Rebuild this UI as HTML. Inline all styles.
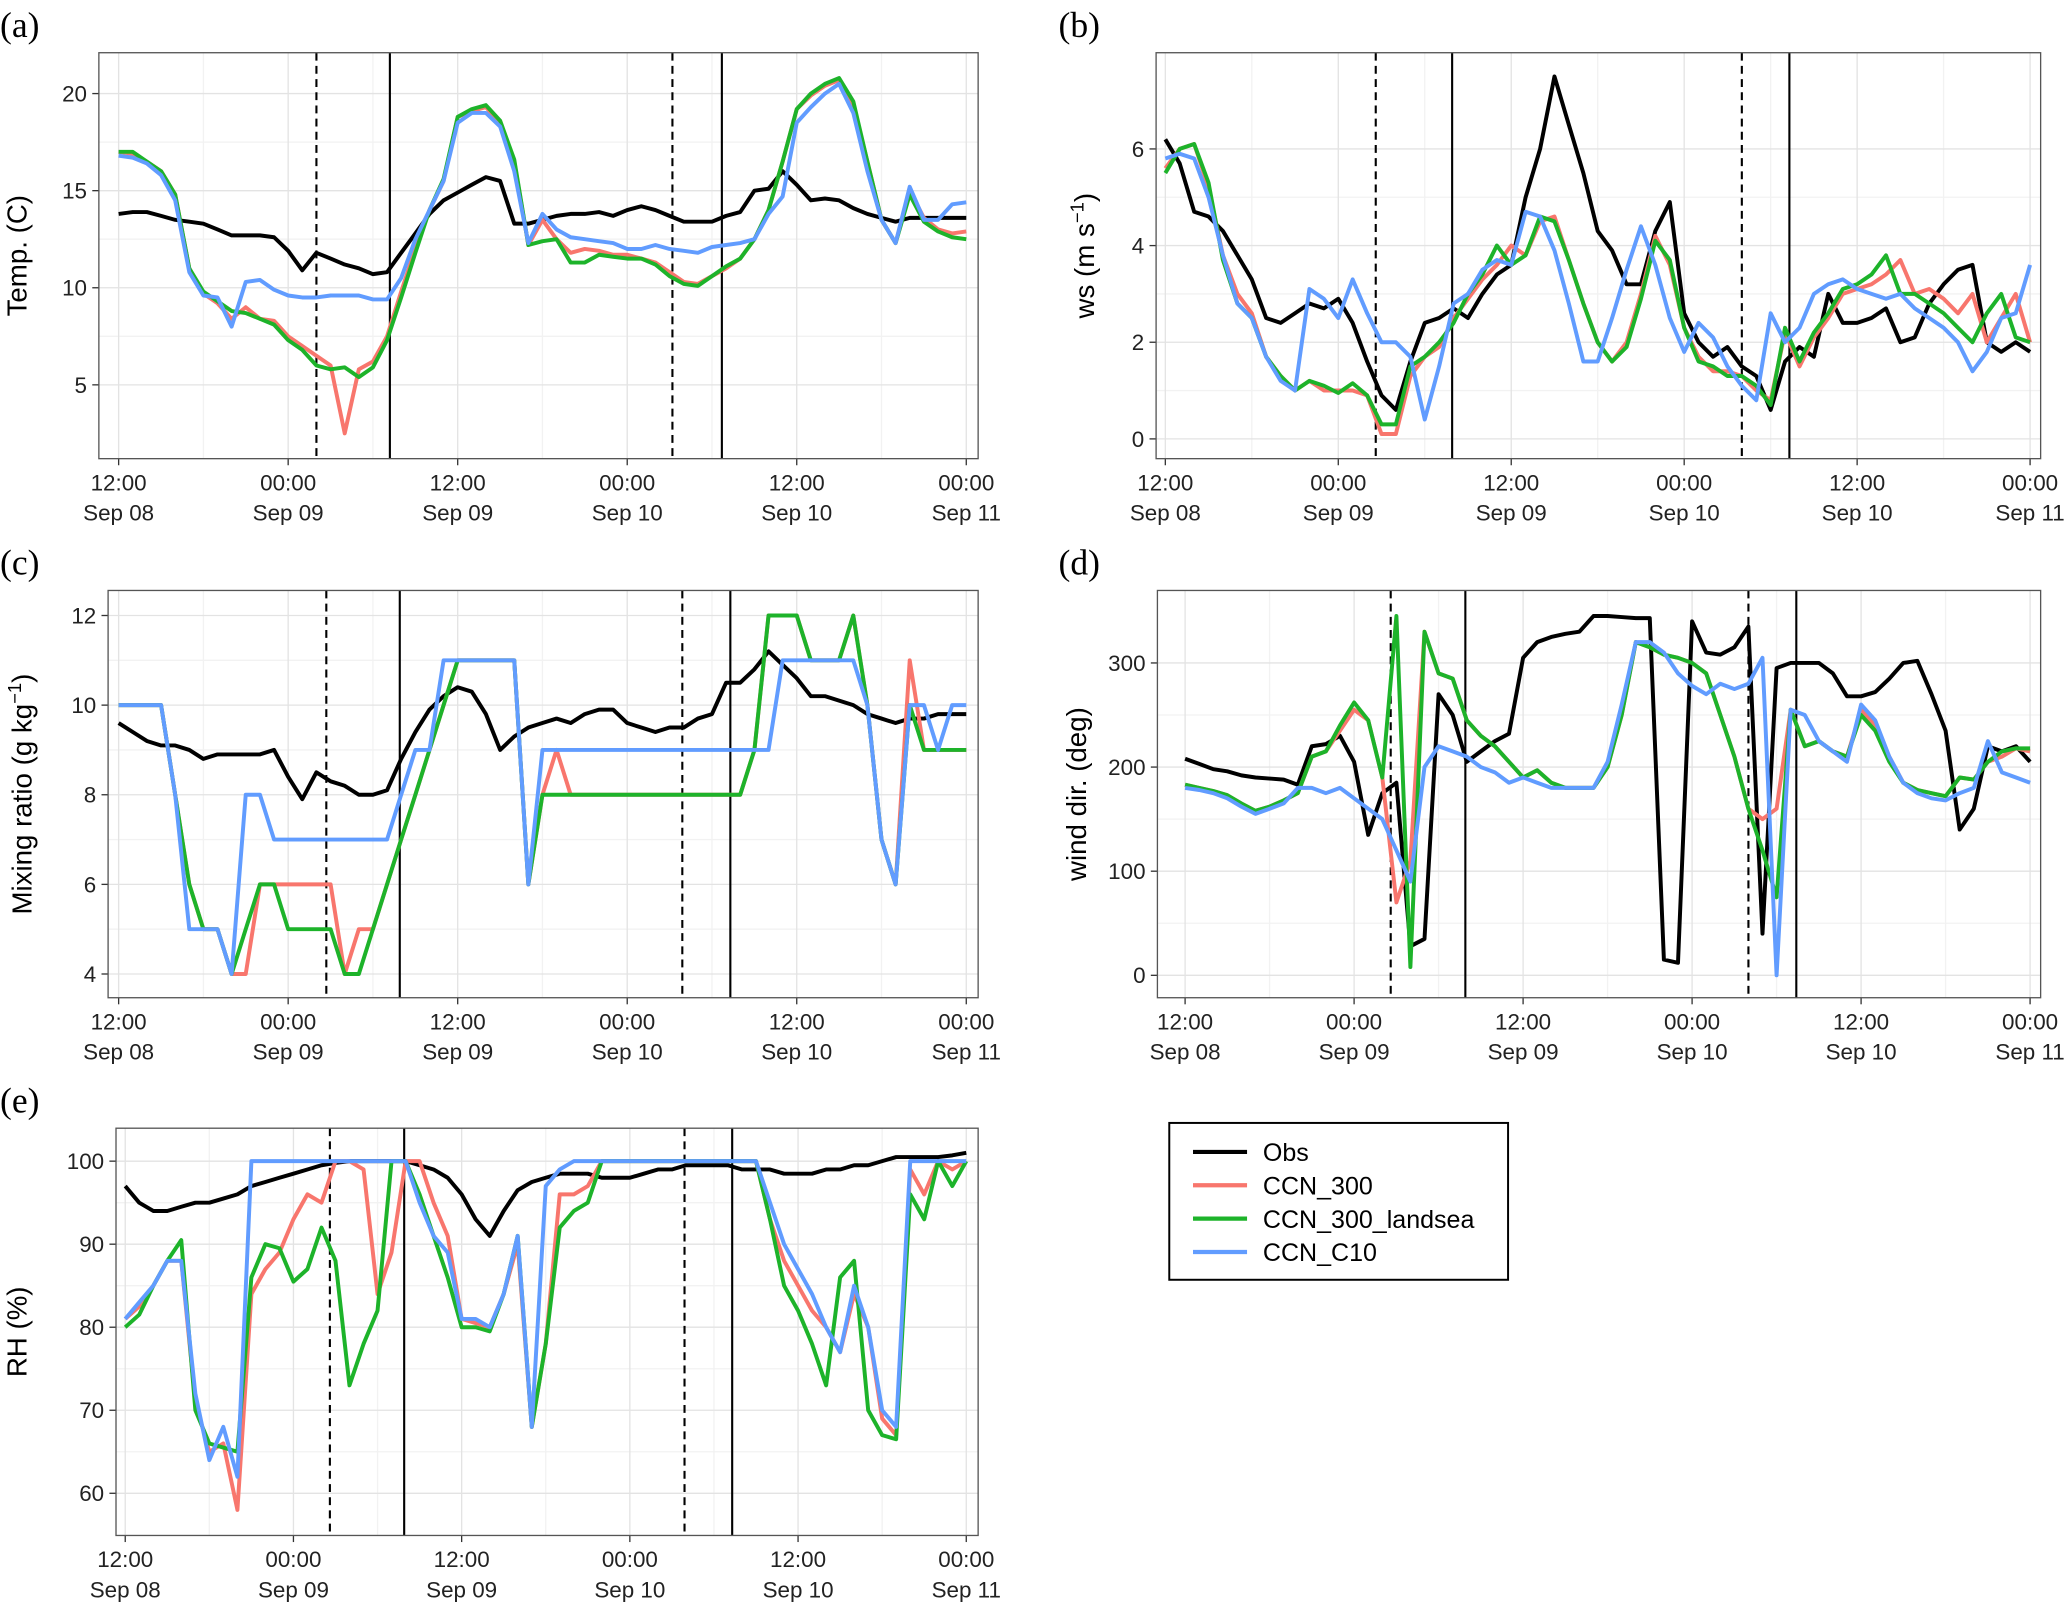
<!DOCTYPE html>
<html><head><meta charset="utf-8"><style>
html,body{margin:0;padding:0;background:#fff;}
svg{display:block;font-family:"Liberation Sans",sans-serif;}
</style></head><body>
<svg id="fig" width="2067" height="1604" viewBox="0 0 1568 1217" preserveAspectRatio="none" xmlns="http://www.w3.org/2000/svg"></svg>
<script>
// ---- shared axis data ----
const xTickHours = [0,12,24,36,48,60];
const xTickTop = ["12:00","00:00","12:00","00:00","12:00","00:00"];
const xTickBottom = ["Sep 08","Sep 09","Sep 09","Sep 10","Sep 10","Sep 11"];
const seriesNames = ["Obs","CCN_300","CCN_300_landsea","CCN_C10"];

// ---- (a) temperature ----
const tempObs = [13.8,13.9,13.9,13.7,13.5,13.4,13.3,13.0,12.7,12.7,12.7,12.6,11.9,10.9,11.8,11.5,11.2,11.0,10.7,10.8,11.8,12.8,13.8,14.5,14.9,15.3,15.7,15.5,13.3,13.3,13.5,13.7,13.8,13.8,13.9,13.7,14.0,14.2,14.0,13.7,13.4,13.4,13.4,13.7,13.9,15.0,15.1,16.0,15.3,14.5,14.6,14.5,14.1,13.8,13.6,13.4,13.6,13.6,13.6,13.6,13.6];
const tempC300 = [17.0,16.9,16.5,16.0,14.8,11.0,9.7,9.2,8.4,9.0,8.4,8.3,7.5,7.0,6.5,6.0,2.5,5.8,6.2,7.5,9.8,12.0,14.0,15.5,18.8,19.1,19.3,18.5,16.5,12.2,13.5,12.5,11.8,12.0,11.9,11.7,11.7,11.5,11.3,10.8,10.3,10.2,10.6,11.0,11.5,12.5,14.0,16.5,19.2,19.9,20.4,20.7,19.4,16.5,13.5,12.3,15.0,13.6,13.0,12.8,12.9];
const tempLand = [17.0,17.0,16.5,16.0,14.8,11.0,9.8,9.3,8.8,8.7,8.4,8.1,7.3,6.8,6.0,5.8,5.9,5.4,5.9,7.3,9.5,11.8,14.0,15.6,18.8,19.2,19.4,18.6,16.6,12.2,12.4,12.5,11.3,11.3,11.7,11.6,11.5,11.5,11.2,10.6,10.2,10.1,10.6,11.1,11.5,12.5,14.0,16.5,19.2,20.0,20.5,20.8,19.6,16.5,13.5,12.3,14.8,13.4,12.9,12.6,12.5];
const tempC10 = [16.8,16.7,16.4,15.8,14.5,10.8,9.6,9.5,8.0,10.3,10.4,9.9,9.6,9.5,9.5,9.6,9.6,9.6,9.4,9.4,10.5,12.5,14.0,15.5,18.5,19.0,19.0,18.3,16.0,12.3,13.8,13.0,12.6,12.5,12.4,12.3,12.0,12.0,12.2,12.0,11.9,11.8,12.1,12.2,12.3,12.5,13.8,14.7,18.5,19.3,20.0,20.5,19.0,16.0,13.5,12.3,15.2,13.5,13.5,14.3,14.4];
const tempTicks = [5,10,15,20];

// ---- (b) wind speed ----
const wsObs = [6.2,5.7,4.7,4.6,4.3,3.8,3.3,2.5,2.4,2.6,2.8,2.7,2.9,2.4,1.6,0.9,0.6,1.6,2.4,2.5,2.7,2.5,3.0,3.4,3.6,5.0,6.0,7.5,6.5,5.5,4.3,3.9,3.2,3.2,4.3,4.9,2.6,2.0,1.7,1.9,1.5,1.3,0.6,1.6,1.9,1.7,3.0,2.4,2.4,2.5,2.7,2.0,2.1,2.8,3.2,3.5,3.6,2.0,1.8,2.0,1.8];
const wsC300 = [5.6,6.0,6.1,5.2,3.8,3.0,2.6,1.7,1.3,1.0,1.2,1.0,1.0,1.0,0.9,0.1,0.1,1.3,1.7,1.9,2.5,2.9,3.3,3.6,4.0,3.8,4.5,4.6,3.7,2.8,2.0,1.6,2.0,3.0,4.2,3.6,2.3,1.7,1.4,1.4,1.3,1.0,0.8,2.2,1.5,2.1,2.5,3.0,3.1,3.2,3.4,3.7,3.0,3.1,2.9,2.6,3.0,2.0,2.5,3.0,2.0];
const wsLand = [5.5,6.0,6.1,5.3,3.7,2.8,2.5,1.7,1.3,1.0,1.2,1.1,0.95,1.15,0.9,0.3,0.3,1.5,1.7,2.0,2.4,3.0,3.4,4.0,3.6,3.8,4.6,4.5,3.7,2.8,2.0,1.6,1.9,2.9,4.1,3.7,2.3,1.6,1.5,1.3,1.3,1.1,0.7,2.3,1.6,2.2,2.6,3.1,3.2,3.4,3.8,3.0,3.0,2.8,2.6,2.3,2.0,2.6,3.0,2.1,2.0];
const wsC10 = [5.8,5.9,5.8,5.0,3.8,2.8,2.5,1.7,1.2,1.0,3.1,2.9,2.5,3.3,2.6,2.0,2.0,1.7,0.4,1.5,2.8,3.0,3.5,3.7,3.6,4.7,4.6,3.9,2.8,1.6,1.6,2.5,3.5,4.4,3.6,2.5,1.8,2.4,2.1,1.5,1.1,0.8,2.6,2.0,2.3,3.0,3.2,3.3,3.1,3.0,2.9,3.0,2.7,2.5,2.3,2.0,1.4,1.8,2.5,2.6,3.6];
const wsTicks = [0,2,4,6];

// ---- (c) mixing ratio ----
const mrObs = [9.6,9.4,9.2,9.1,9.1,9.0,8.8,8.9,8.9,8.9,8.9,9.0,8.4,7.9,8.5,8.3,8.2,8.0,8.0,8.1,8.8,9.4,9.9,10.2,10.4,10.3,9.8,9.0,9.3,9.5,9.6,9.7,9.6,9.8,9.9,9.9,9.6,9.5,9.4,9.5,9.5,9.7,9.8,10.5,10.5,10.8,11.2,10.9,10.6,10.2,10.2,10.1,10.0,9.8,9.7,9.6,9.7,9.7,9.8,9.8,9.8];
const mrC300 = [10,10,10,10,8,6,5,5,4,4,6,6,6,6,6,6,4,5,5,6,7,8,9,10,11,11,11,11,11,6,8,9,8,8,8,8,8,8,8,8,8,8,8,8,8,9,12,12,12,11,11,11,12,10,7,6,11,9,9,9,9];
const mrLand = [10,10,10,10,8,6,5,5,4,5,6,6,5,5,5,5,4,4,5,6,7,8,9,10,11,11,11,11,11,6,8,8,8,8,8,8,8,8,8,8,8,8,8,8,8,9,12,12,12,11,11,11,12,10,7,6,10,9,9,9,9];
const mrC10 = [10,10,10,10,8,5,5,5,4,8,8,7,7,7,7,7,7,7,7,7,8,9,9,11,11,11,11,11,11,6,9,9,9,9,9,9,9,9,9,9,9,9,9,9,9,9,9,11,11,11,11,11,11,10,7,6,10,10,9,10,10];
const mrTicks = [4,6,8,10,12];

// ---- (d) wind direction ----
const wdObs = [208,203,198,196,192,190,189,188,183,220,222,230,205,135,175,185,28,35,270,250,205,215,225,232,305,320,325,328,330,345,345,344,343,343,15,12,340,310,308,315,335,40,295,300,300,300,290,268,268,272,285,300,302,270,235,140,160,220,215,220,205];
const wdC300 = [183,180,177,173,165,158,162,168,175,210,215,235,255,245,190,70,110,330,290,285,245,230,220,205,190,197,185,180,180,180,200,250,320,315,308,305,300,290,250,210,160,150,160,255,220,225,215,210,255,240,210,185,178,175,172,190,188,205,210,218,215];
const wdLand = [183,180,177,173,165,158,162,168,175,210,215,240,262,245,190,345,8,330,290,285,245,230,220,205,190,197,185,180,180,180,200,250,320,315,308,305,300,290,250,210,160,120,75,255,220,225,215,210,250,235,205,185,178,175,172,190,188,205,215,218,218];
const wdC10 = [180,178,175,170,162,155,160,165,180,180,175,180,170,160,150,120,90,200,220,215,210,200,195,185,190,185,180,180,180,180,205,260,320,320,310,290,278,270,280,275,280,305,0,255,250,225,215,205,260,245,210,185,175,170,168,175,180,225,195,190,185];
const wdTicks = [0,100,200,300];

// ---- (e) relative humidity ----
const rhObs = [97,95,94,94,94.5,95,95,95.5,96,97,97.5,98,98.5,99,99.5,99.8,100,100,100,100,100,99.5,99,98,96,93,91,94,96.5,97.5,98,98.5,98.5,98.5,98,98,98,98.5,99,99,99.5,99.5,99.5,99.5,99,99,99,98.5,98.5,98.5,99,99,99.5,99.5,100,100.5,100.5,100.5,100.5,100.7,101];
const rhC300 = [81,82.5,85,88,88,71,65,66,58,84,87,89,93,96,95,100,100,99,84,89,100,100,95,91,81,80.5,80,84,90,68,78,96,96,97,100,100,100,100,100,100,100,100,100,100,100,100,93,88,85,82,80,77,84,80,69,67,99,96,100,99,100];
const rhLand = [80,81.5,85,88,90.5,70,66,65.5,65,86,90,89.5,85.5,87,92,88,73,78,82,100,100,96,91,86,80,80,79.5,84,91,68,78,92,94,95,100,100,100,100,100,100,100,100,100,100,100,100,93,85,82,78,73,86,88,70,67,66.5,96,93,100,97,100];
const rhC10 = [81,83,85,88,88,72,64,68,62,100,100,100,100,100,100,100,100,100,100,100,100,95,91,89,81,81,80,84,91,68,97,99,100,100,100,100,100,100,100,100,100,100,100,100,100,100,95,90,87,84,80,77,85,80,70,68,100,100,100,100,100];
const rhTicks = [60,70,80,90,100];

const colors = ["#000000","#F8766D","#1DB32A","#619CFF"];
const NS = "http://www.w3.org/2000/svg";
const svg = document.getElementById("fig");

function mk(tag, attrs, parent){
  const e = document.createElementNS(NS, tag);
  for (const k in attrs) e.setAttribute(k, attrs[k]);
  (parent||svg).appendChild(e);
  return e;
}

function panel(cfg){
  const g = mk("g", {});
  
  
  const xs = h => cfg.x0 + h * (cfg.x60 - cfg.x0) / 60;
  const ys = v => cfg.yA + (v - cfg.vA) * (cfg.yB - cfg.yA) / (cfg.vB - cfg.vA);
  const bg = mk("rect", {x:cfg.L, y:cfg.T, width:cfg.R-cfg.L, height:cfg.B-cfg.T, fill:"#fff"}, g);
  
  
  for (let h=6; h<60; h+=12) mk("line",{x1:xs(h),x2:xs(h),y1:cfg.T,y2:cfg.B,stroke:"#f2f2f2","stroke-width":1},g);
  for (let i=0;i<cfg.ticks.length-1;i++){const v=(cfg.ticks[i]+cfg.ticks[i+1])/2; mk("line",{x1:cfg.L,x2:cfg.R,y1:ys(v),y2:ys(v),stroke:"#f2f2f2","stroke-width":1},g);}
  xTickHours.forEach((h,i)=>{
    mk("line",{x1:xs(h),x2:xs(h),y1:cfg.T,y2:cfg.B,stroke:"#e3e3e3","stroke-width":1},g);
    mk("line",{x1:xs(h),x2:xs(h),y1:cfg.B,y2:cfg.B+5,stroke:"#333","stroke-width":1},g);
    const t1 = mk("text",{x:xs(h),y:cfg.B+24,"font-size":17,"text-anchor":"middle",fill:"#222"},g);
    t1.textContent = xTickTop[i];
    
    
    const t2 = mk("text",{x:xs(h),y:cfg.B+47,"font-size":17,"text-anchor":"middle",fill:"#222"},g);
    t2.textContent = xTickBottom[i];
    
    
  });
  cfg.ticks.forEach(v=>{
    mk("line",{x1:cfg.L,x2:cfg.R,y1:ys(v),y2:ys(v),stroke:"#e3e3e3","stroke-width":1},g);
    mk("line",{x1:cfg.L-5,x2:cfg.L,y1:ys(v),y2:ys(v),stroke:"#333","stroke-width":1},g);
    const t = mk("text",{x:cfg.L-9,y:ys(v)+6,"font-size":17,"text-anchor":"end",fill:"#222"},g);
    t.textContent = v;
    
    
  });
  cfg.vlines.forEach((h,i)=>{
    const l = mk("line",{x1:xs(h),x2:xs(h),y1:cfg.T,y2:cfg.B,stroke:"#000","stroke-width":1.6,"stroke-dasharray":i%2===0?"6,4":"none"},g);
    
    
  });
  [0,1,2,3].forEach(si=>{
    const vals = cfg.series[si];
    const pts = vals.map((v,h)=>xs(h).toFixed(1)+","+ys(v).toFixed(1)).join(" ");
    const p = mk("polyline",{points:pts,fill:"none",stroke:colors[si],"stroke-width":3,"stroke-linejoin":"round"},g);
    
    
  });
  mk("rect",{x:cfg.L,y:cfg.T,width:cfg.R-cfg.L,height:cfg.B-cfg.T,fill:"none",stroke:"#555","stroke-width":1},g);
  const lab = mk("text",{x:cfg.labX,y:cfg.labY,"font-size":27,"font-family":"Liberation Serif, serif",fill:"#000"},g);
  lab.textContent = cfg.label;
  
  
  const cy = (cfg.T+cfg.B)/2;
  const yt = mk("text",{x:0,y:0,"font-size":21,"text-anchor":"middle",fill:"#000",transform:`translate(${cfg.ytX},${cy}) rotate(-90)`},g);
  yt.innerHTML = cfg.ytitle;
  
  
}

panel({name:"panel-a-temperature",label:"(a)",labX:0,labY:28,L:75,R:742,T:40,B:348,x0:90,x60:733,vA:20,yA:71,vB:5,yB:292,
  ticks:tempTicks,vlines:[14.0,19.2,39.2,42.7],series:[tempObs,tempC300,tempLand,tempC10],ytX:20,ytitle:"Temp. (C)"});
panel({name:"panel-b-wind-speed",label:"(b)",labX:803,labY:28,L:877,R:1548,T:40,B:348,x0:884,x60:1540,vA:6,yA:113,vB:0,yB:333,
  ticks:wsTicks,vlines:[14.6,19.9,40.0,43.3],series:[wsObs,wsC300,wsLand,wsC10],ytX:830,ytitle:'ws (m s<tspan dy="-8" font-size="14">−1</tspan><tspan dy="8">)</tspan>'});
panel({name:"panel-c-mixing-ratio",label:"(c)",labX:0,labY:436,L:82,R:742,T:448,B:757,x0:90,x60:733,vA:12,yA:467,vB:4,yB:739,
  ticks:mrTicks,vlines:[14.7,19.9,39.9,43.3],series:[mrObs,mrC300,mrLand,mrC10],ytX:24,ytitle:'Mixing ratio (g kg<tspan dy="-8" font-size="14">−1</tspan><tspan dy="8">)</tspan>'});
panel({name:"panel-d-wind-direction",label:"(d)",labX:803,labY:436,L:878,R:1548,T:448,B:757,x0:899,x60:1540,vA:300,yA:503,vB:0,yB:740,
  ticks:wdTicks,vlines:[14.6,19.9,40.0,43.4],series:[wdObs,wdC300,wdLand,wdC10],ytX:824,ytitle:"wind dir. (deg)"});
panel({name:"panel-e-relative-humidity",label:"(e)",labX:0,labY:844,L:88,R:742,T:856,B:1165,x0:95,x60:733,vA:100,yA:881,vB:60,yB:1133,
  ticks:rhTicks,vlines:[14.6,19.9,39.9,43.3],series:[rhObs,rhC300,rhLand,rhC10],ytX:20,ytitle:"RH (%)"});

const lg = mk("g",{});


mk("rect",{x:887,y:852,width:257,height:119,fill:"#fff",stroke:"#000","stroke-width":1.5},lg);
seriesNames.forEach((n,i)=>{
  const y = 874 + i*25.3;
  const ln = mk("line",{x1:905,x2:946,y1:y,y2:y,stroke:colors[i],"stroke-width":3.2},lg);
  
  
  const t = mk("text",{x:958,y:y+7,"font-size":19,fill:"#000"},lg);
  t.textContent = n;
  
  
});
</script>
</body></html>
